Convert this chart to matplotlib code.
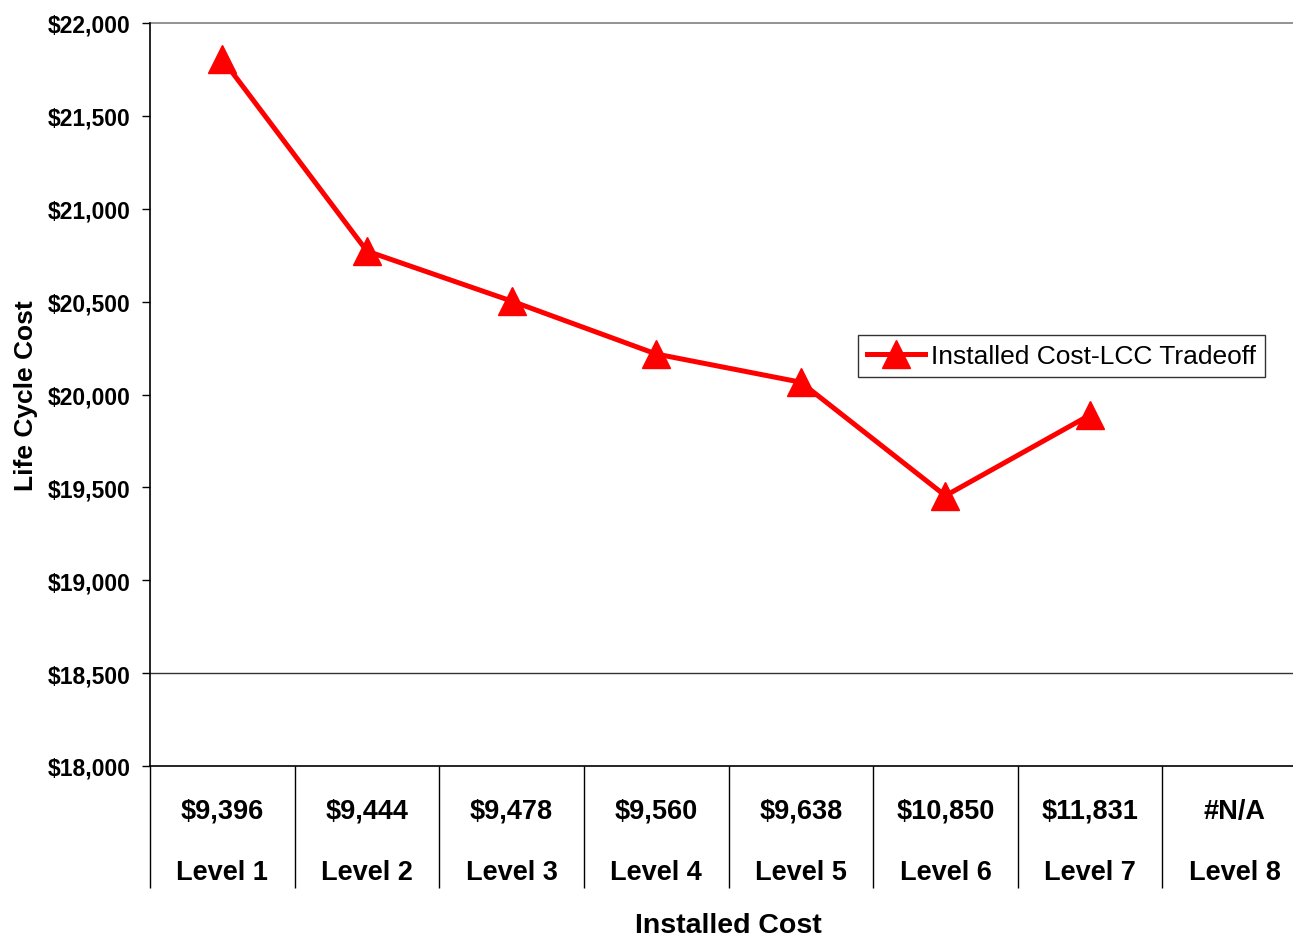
import matplotlib.pyplot as plt
import numpy as np

# data
levels = ['Level 1', 'Level 2', 'Level 3', 'Level 4', 'Level 5', 'Level 6', 'Level 7', 'Level 8']
installed_cost = ['$9,396', '$9,444', '$9,478', '$9,560', '$9,638', '$10,850', '$11,831', '#N/A']
life_cycle_cost = [21805, 20772, 20503, 20218, 20066, 19455, 19890, np.nan]

plt.rcParams['font.family'] = ['Liberation Sans', 'DejaVu Sans']

W, H = 1293, 937
fig = plt.figure(figsize=(W / 100, H / 100), dpi=100)
ax = fig.add_axes([150 / W, 1 - 767 / H, (1307 - 150) / W, (767 - 24) / H])

x = np.arange(len(levels))
ax.plot(x, life_cycle_cost, color='#ff0000', lw=3.6, marker='^', markersize=20,
        label='Installed Cost-LCC Tradeoff')

ax.set_xlim(-0.5, len(levels) - 0.5)
ax.set_ylim(18000, 22000)
ax.set_yticks(np.arange(18000, 22001, 500))
ax.set_yticklabels([f'${v:,}' for v in range(18000, 22001, 500)],
                   fontsize=16.5, fontweight='bold')

# only two gridlines in the original
ax.axhline(22000, color='#808080', lw=1.2, clip_on=False)
ax.axhline(18500, color='#333333', lw=1.0)

ax.set_xticks(x)
ax.set_xticklabels([f'{c}\n{l}' for c, l in zip(installed_cost, levels)],
                   fontsize=19.5, fontweight='bold', linespacing=2.75)
ax.tick_params(axis='x', which='major', length=0, pad=23)
ax.set_xticks(np.arange(-0.5, len(levels)), minor=True)
ax.tick_params(axis='x', which='minor', length=88, width=1.0, direction='out', color='black')
ax.tick_params(axis='y', length=6, width=1.0, direction='out', color='black', pad=8)

for s in ['top', 'right']:
    ax.spines[s].set_visible(False)
ax.spines['left'].set_linewidth(1.2)
ax.spines['bottom'].set_linewidth(1.2)

ax.set_ylabel('Life Cycle Cost', fontsize=19, fontweight='bold')
ax.yaxis.set_label_coords(-0.097, 0.5)
fig.text(728 / W, 1 - 926 / H, 'Installed Cost', fontsize=20.5, fontweight='bold',
         ha='center', va='center')

leg = ax.legend(loc='upper left', bbox_to_anchor=(858 / W, 1 - 336 / H),
                bbox_transform=fig.transFigure, fontsize=19, frameon=True,
                fancybox=False, edgecolor='black', handlelength=2.2,
                handletextpad=0.2, borderpad=0.35, borderaxespad=0)
leg.get_frame().set_linewidth(1.0)

fig.savefig('out.png', dpi=100)
